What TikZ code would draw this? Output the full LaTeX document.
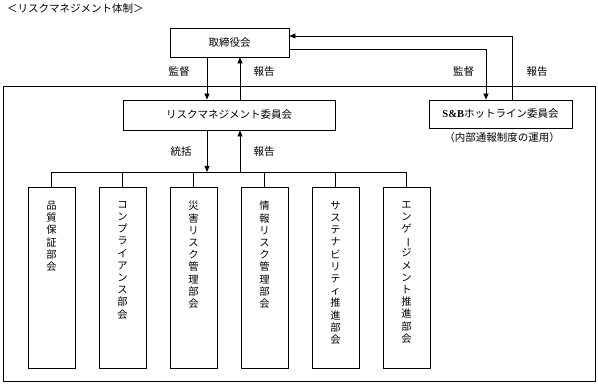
\documentclass[tikz,border=0pt]{standalone}
\usepackage{fontspec}
\setmainfont{Liberation Serif}
\newfontfamily\jp{Noto Sans CJK JP}
\usetikzlibrary{arrows.meta}
\begin{document}
\begin{tikzpicture}[x=1pt,y=-1pt,
  box/.style={draw,line width=0.9pt,inner sep=0pt,font=\jp\fontsize{10.5}{12}\selectfont},
  kid/.style={draw,line width=0.9pt,minimum width=47pt,minimum height=181pt,inner sep=0pt},
  vtext/.style={anchor=north,inner sep=0pt,align=center,font=\jp\fontsize{10.3}{12.2}\selectfont},
  lbl/.style={inner sep=0pt,font=\jp\fontsize{10.5}{12}\selectfont},
  arr/.style={line width=0.7pt,-{Triangle[length=6pt,width=5pt]}},
  ln/.style={line width=0.8pt}]
\useasboundingbox (0,0) rectangle (598,385);
\node[lbl,anchor=west] (title) at (7,9) {＜リスクマネジメント体制＞};
\node[draw,line width=0.9pt,minimum width=592pt,minimum height=295pt,inner sep=0pt] (outer) at (299,233.5) {};
\node[box,minimum width=119pt,minimum height=29pt] (board) at (229.5,42.5) {取締役会};
\node[box,minimum width=212pt,minimum height=30pt] (rm) at (229,115) {リスクマネジメント委員会};
\node[box,minimum width=143pt,minimum height=28pt] (sb) at (500.5,114) {{\rmfamily\bfseries S\&B}ホットライン委員会};
\node[lbl] (sbnote) at (502,137.5) {（内部通報制度の運用）};
\coordinate (xa) at (207,0);
\coordinate (xb) at (240,0);
\coordinate (bus) at (0,172);
\coordinate (r1) at (512,36);
\coordinate (s1) at (486,49);
% children
\foreach \i/\t in {1/{品\\質\\保\\証\\部\\会},
                   2/{コ\\ン\\プ\\ラ\\イ\\ア\\ン\\ス\\部\\会},
                   3/{災\\害\\リ\\ス\\ク\\管\\理\\部\\会},
                   4/{情\\報\\リ\\ス\\ク\\管\\理\\部\\会},
                   5/{サ\\ス\\テ\\ナ\\ビ\\リ\\テ\\ィ\\推\\進\\部\\会},
                   6/{エ\\ン\\ゲ\\\rotatebox[origin=c]{-90}{ー}\\ジ\\メ\\ン\\ト\\推\\進\\部\\会}}{
  \node[kid] (c\i) at ({51.5+71*(\i-1)},277.5) {};
  \node[vtext] (t\i) at ({51.5+71*(\i-1)},201) {\t};
}
% labels
\node[lbl] (l1) at (179,72) {監督};
\node[lbl] (l2) at (264,72) {報告};
\node[lbl] (l3) at (463.5,72) {監督};
\node[lbl] (l4) at (537,72) {報告};
\node[lbl] (l5) at (181,152) {統括};
\node[lbl] (l6) at (264,152) {報告};
% connectors
\draw[arr] (xa |- board.south) -- (xa |- rm.north);
\draw[arr] (xb |- rm.north) -- (xb |- board.south);
\draw[arr] (xa |- rm.south) -- (xa |- bus);
\draw[arr] (xb |- bus) -- (xb |- rm.south);
\draw[arr] (r1 |- sb.north) -- (r1) -- (r1 -| board.east);
\draw[arr] (s1 -| board.east) -- (s1) -- (s1 |- sb.north);
\draw[ln] (c1.north |- bus) -- (c6.north |- bus);
\foreach \i in {1,...,6}{\draw[ln] (c\i.north) -- (c\i.north |- bus);}
\end{tikzpicture}
\end{document}
